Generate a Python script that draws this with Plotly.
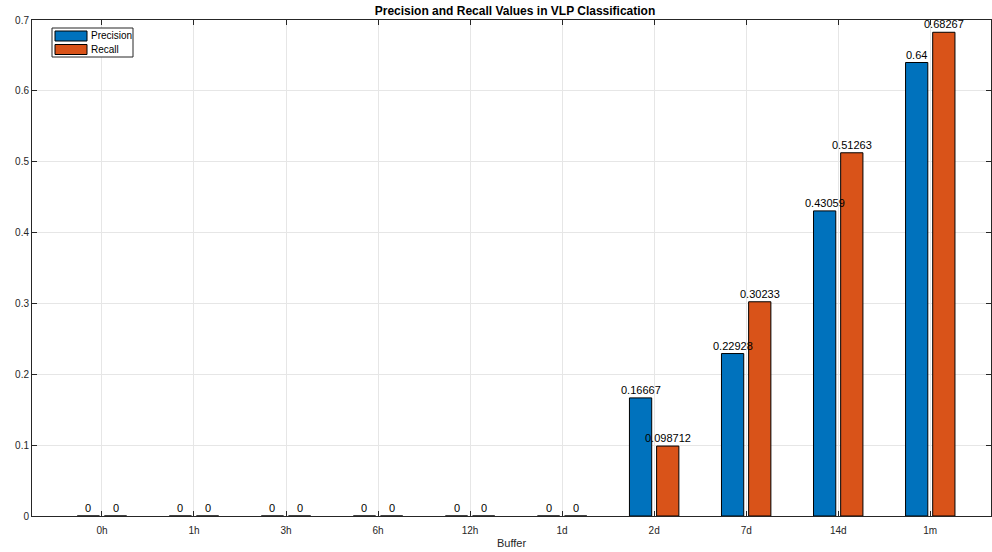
import plotly.graph_objects as go

categories = ["0h", "1h", "3h", "6h", "12h", "1d", "2d", "7d", "14d", "1m"]
precision = [0, 0, 0, 0, 0, 0, 0.16667, 0.22928, 0.43059, 0.64]
recall = [0, 0, 0, 0, 0, 0, 0.098712, 0.30233, 0.51263, 0.68267]
series_names = ["Precision", "Recall"]
series_colors = ["#0072BD", "#D95319"]
y_ticks = [0, 0.1, 0.2, 0.3, 0.4, 0.5, 0.6, 0.7]

FONT = "Liberation Sans, Arial, Helvetica, sans-serif"
W, H = 992, 552
ML, MR, MT, MB = 32, 1, 20, 36
PW, PH = W - ML - MR, H - MT - MB
BARGAP, GROUPGAP = 0.41, 0.18
RANGE = [-0.76, 9.66]


def fmt(v):
    return "{:.5g}".format(v)


def px(x):
    return (x - ML) / PW


def py(y):
    return (H - MB - y) / PH


fig = go.Figure()
for name, vals, col in zip(series_names, [precision, recall], series_colors):
    fig.add_trace(go.Bar(
        x=categories, y=vals, name=name,
        marker=dict(color=col, line=dict(color="#000000", width=1)),
        cliponaxis=False,
        showlegend=False,
        hoverinfo="skip",
    ))

# value labels (drawn above every bar, like MATLAB text objects)
cat_px = PW / (RANGE[1] - RANGE[0])
offset = cat_px * (1 - BARGAP) / 4
annotations = []
for k, vals in enumerate([precision, recall]):
    sh = (-offset if k == 0 else offset)
    for c, v in zip(categories, vals):
        annotations.append(dict(x=c, y=v, xref="x", yref="y", text=fmt(v), showarrow=False,
                                xanchor="center", yanchor="bottom", xshift=sh, yshift=0,
                                font=dict(family=FONT, size=11, color="#000000")))

# manual MATLAB-style legend
shapes = [dict(type="rect", xref="paper", yref="paper",
               x0=px(52), x1=px(133), y0=py(57), y1=py(28),
               line=dict(color="#262626", width=1), fillcolor="white", layer="above")]
for i, (name, col) in enumerate(zip(series_names, series_colors)):
    top = 31 + i * 13.5
    shapes.append(dict(type="rect", xref="paper", yref="paper",
                       x0=px(55), x1=px(87), y0=py(top + 10), y1=py(top),
                       line=dict(color="#000000", width=1), fillcolor=col, layer="above"))
    annotations.append(dict(xref="paper", yref="paper", x=px(89), y=py(top + 5),
                            text=name, showarrow=False, xanchor="left", yanchor="middle",
                            font=dict(family=FONT, size=10, color="#000000")))

fig.update_layout(
    width=W, height=H,
    margin=dict(l=ML, r=MR, t=MT, b=MB),
    paper_bgcolor="white", plot_bgcolor="white",
    barmode="group", bargap=BARGAP, bargroupgap=GROUPGAP,
    font=dict(family=FONT, size=10, color="#262626"),
    title=dict(text="<b>Precision and Recall Values in VLP Classification</b>",
               x=px(515), xanchor="center", xref="paper", y=1 - 10.5 / H, yanchor="middle",
               font=dict(family=FONT, size=12, color="#000000")),
    showlegend=False,
    shapes=shapes,
    annotations=annotations,
)
fig.update_xaxes(
    type="category", range=RANGE,
    showgrid=True, gridcolor="#e6e6e6", gridwidth=1,
    showline=True, linecolor="#262626", linewidth=1, mirror="ticks",
    ticks="inside", ticklen=5, tickcolor="#262626",
    tickfont=dict(family=FONT, size=10, color="#262626"),
    ticklabelstandoff=5,
    title=dict(text="Buffer", font=dict(family=FONT, size=11, color="#262626"), standoff=4),
    zeroline=False,
)
fig.update_yaxes(
    range=[0, 0.7], tickvals=y_ticks, ticktext=[fmt(v) for v in y_ticks],
    showgrid=True, gridcolor="#e6e6e6", gridwidth=1,
    showline=True, linecolor="#262626", linewidth=1, mirror="ticks",
    ticks="inside", ticklen=5, tickcolor="#262626",
    tickfont=dict(family=FONT, size=10, color="#262626"),
    zeroline=False,
)
fig.write_html("out.html", config={"displayModeBar": False},
               post_script="document.body.style.margin='0';document.body.style.overflow='hidden';")
